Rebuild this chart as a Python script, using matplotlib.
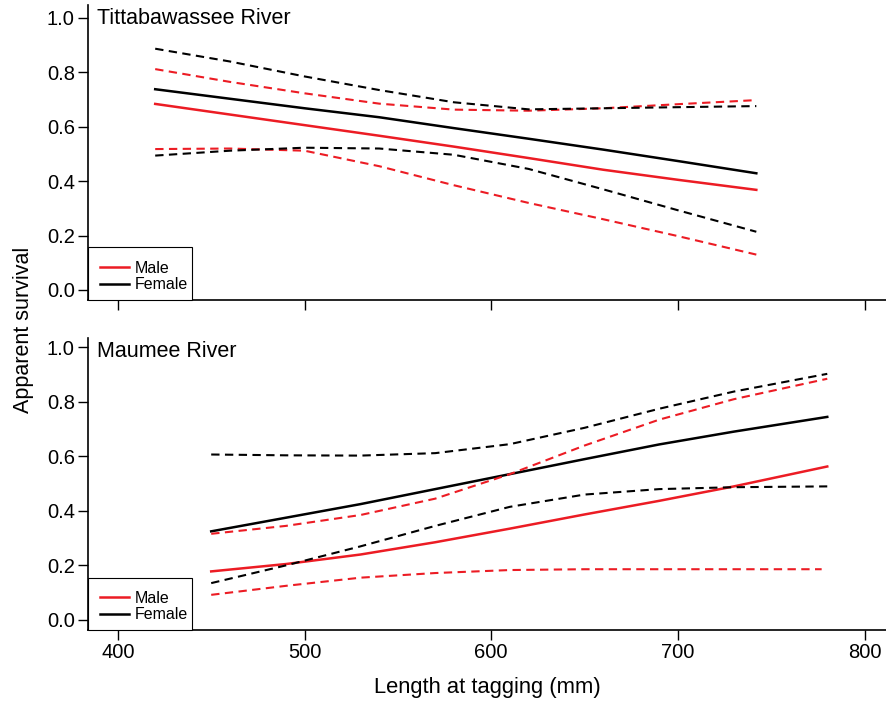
import matplotlib
matplotlib.use('Agg')
import matplotlib.pyplot as plt
from matplotlib.patches import Rectangle

plt.rcParams['font.family'] = ['Liberation Sans', 'DejaVu Sans']

# Tittabawassee River
tit_x = [420, 460, 500, 540, 580, 620, 660, 700, 742]
tit_f_fit = [0.738, 0.703, 0.668, 0.635, 0.595, 0.556, 0.516, 0.474, 0.429]
tit_f_hi = [0.887, 0.84, 0.785, 0.735, 0.69, 0.664, 0.668, 0.672, 0.676]
tit_f_lo = [0.494, 0.512, 0.523, 0.52, 0.497, 0.445, 0.37, 0.293, 0.214]
tit_m_fit = [0.684, 0.645, 0.606, 0.567, 0.527, 0.485, 0.442, 0.405, 0.368]
tit_m_hi = [0.812, 0.765, 0.723, 0.685, 0.663, 0.659, 0.668, 0.683, 0.698]
tit_m_lo = [0.518, 0.52, 0.512, 0.455, 0.385, 0.32, 0.26, 0.198, 0.13]

# Maumee River
mau_x = [450, 490, 530, 570, 610, 650, 690, 730, 780]
mau_x_mlo = [450, 490, 530, 570, 610, 650, 690, 730, 777]
mau_f_fit = [0.325, 0.375, 0.425, 0.48, 0.535, 0.59, 0.644, 0.691, 0.745]
mau_f_hi = [0.607, 0.604, 0.603, 0.612, 0.645, 0.705, 0.775, 0.838, 0.903]
mau_f_lo = [0.135, 0.20, 0.27, 0.345, 0.415, 0.46, 0.48, 0.487, 0.49]
mau_m_fit = [0.178, 0.205, 0.24, 0.285, 0.335, 0.387, 0.437, 0.49, 0.563]
mau_m_hi = [0.316, 0.345, 0.385, 0.445, 0.535, 0.64, 0.735, 0.81, 0.885]
mau_m_lo = [0.092, 0.125, 0.155, 0.172, 0.183, 0.186, 0.186, 0.186, 0.186]

RED = '#ec1c24'
dash = (0, (4, 2.6))

fig = plt.figure(figsize=(8.87, 7.01), dpi=100)
ax1 = fig.add_axes([0.0992, 0.572, 0.9008, 0.421])
ax2 = fig.add_axes([0.0992, 0.1013, 0.9008, 0.4167])

panels = [
    (ax1, 'Tittabawassee River', tit_x, tit_x, tit_m_fit, tit_m_hi, tit_m_lo,
     tit_f_fit, tit_f_hi, tit_f_lo, (-0.037, 1.048), 0.180),
    (ax2, 'Maumee River', mau_x, mau_x_mlo, mau_m_fit, mau_m_hi, mau_m_lo,
     mau_f_fit, mau_f_hi, mau_f_lo, (-0.037, 1.035), 0.178),
]

for ax, title, x, x_mlo, m_fit, m_hi, m_lo, f_fit, f_hi, f_lo, ylim, box_h in panels:
    ax.plot(x, m_fit, color=RED, lw=1.8, label='Male')
    ax.plot(x, f_fit, color='black', lw=1.8, label='Female')
    ax.plot(x, m_hi, color=RED, lw=1.5, linestyle=dash)
    ax.plot(x_mlo, m_lo, color=RED, lw=1.5, linestyle=dash)
    ax.plot(x, f_hi, color='black', lw=1.5, linestyle=dash)
    ax.plot(x, f_lo, color='black', lw=1.5, linestyle=dash)

    ax.set_xlim(384, 812)
    ax.set_ylim(*ylim)
    ax.set_xticks([400, 500, 600, 700, 800])
    ax.set_yticks([0.0, 0.2, 0.4, 0.6, 0.8, 1.0])
    ax.set_yticklabels(['0.0', '0.2', '0.4', '0.6', '0.8', '1.0'])
    ax.spines['top'].set_visible(False)
    ax.spines['right'].set_visible(False)
    ax.spines['left'].set_linewidth(1.2)
    ax.spines['bottom'].set_linewidth(1.2)
    ax.tick_params(direction='out', length=7.5, width=1, labelsize=14.5, pad=2)
    ax.text(0.011, 0.988, title, transform=ax.transAxes, fontsize=15.5,
            ha='left', va='top')

    # legend box is narrower on the right than matplotlib's own frame
    ax.add_patch(Rectangle((0, 0), 0.130, box_h, transform=ax.transAxes,
                           facecolor='white', edgecolor='black', lw=0.8,
                           zorder=5, clip_on=False))
    leg = ax.legend(loc='lower left', bbox_to_anchor=(0, -0.014),
                    borderaxespad=0, fontsize=11.5, handlelength=1.8,
                    handletextpad=0.4, labelspacing=0.1, borderpad=0.75,
                    frameon=False)
    leg.set_zorder(6)

ax1.tick_params(axis='x', labelbottom=False)
ax2.set_xlabel('Length at tagging (mm)', fontsize=15.8, labelpad=11)
fig.text(0.026, 0.529, 'Apparent survival', rotation=90, fontsize=15.5,
         ha='center', va='center')

fig.savefig('out.png', dpi=100)
